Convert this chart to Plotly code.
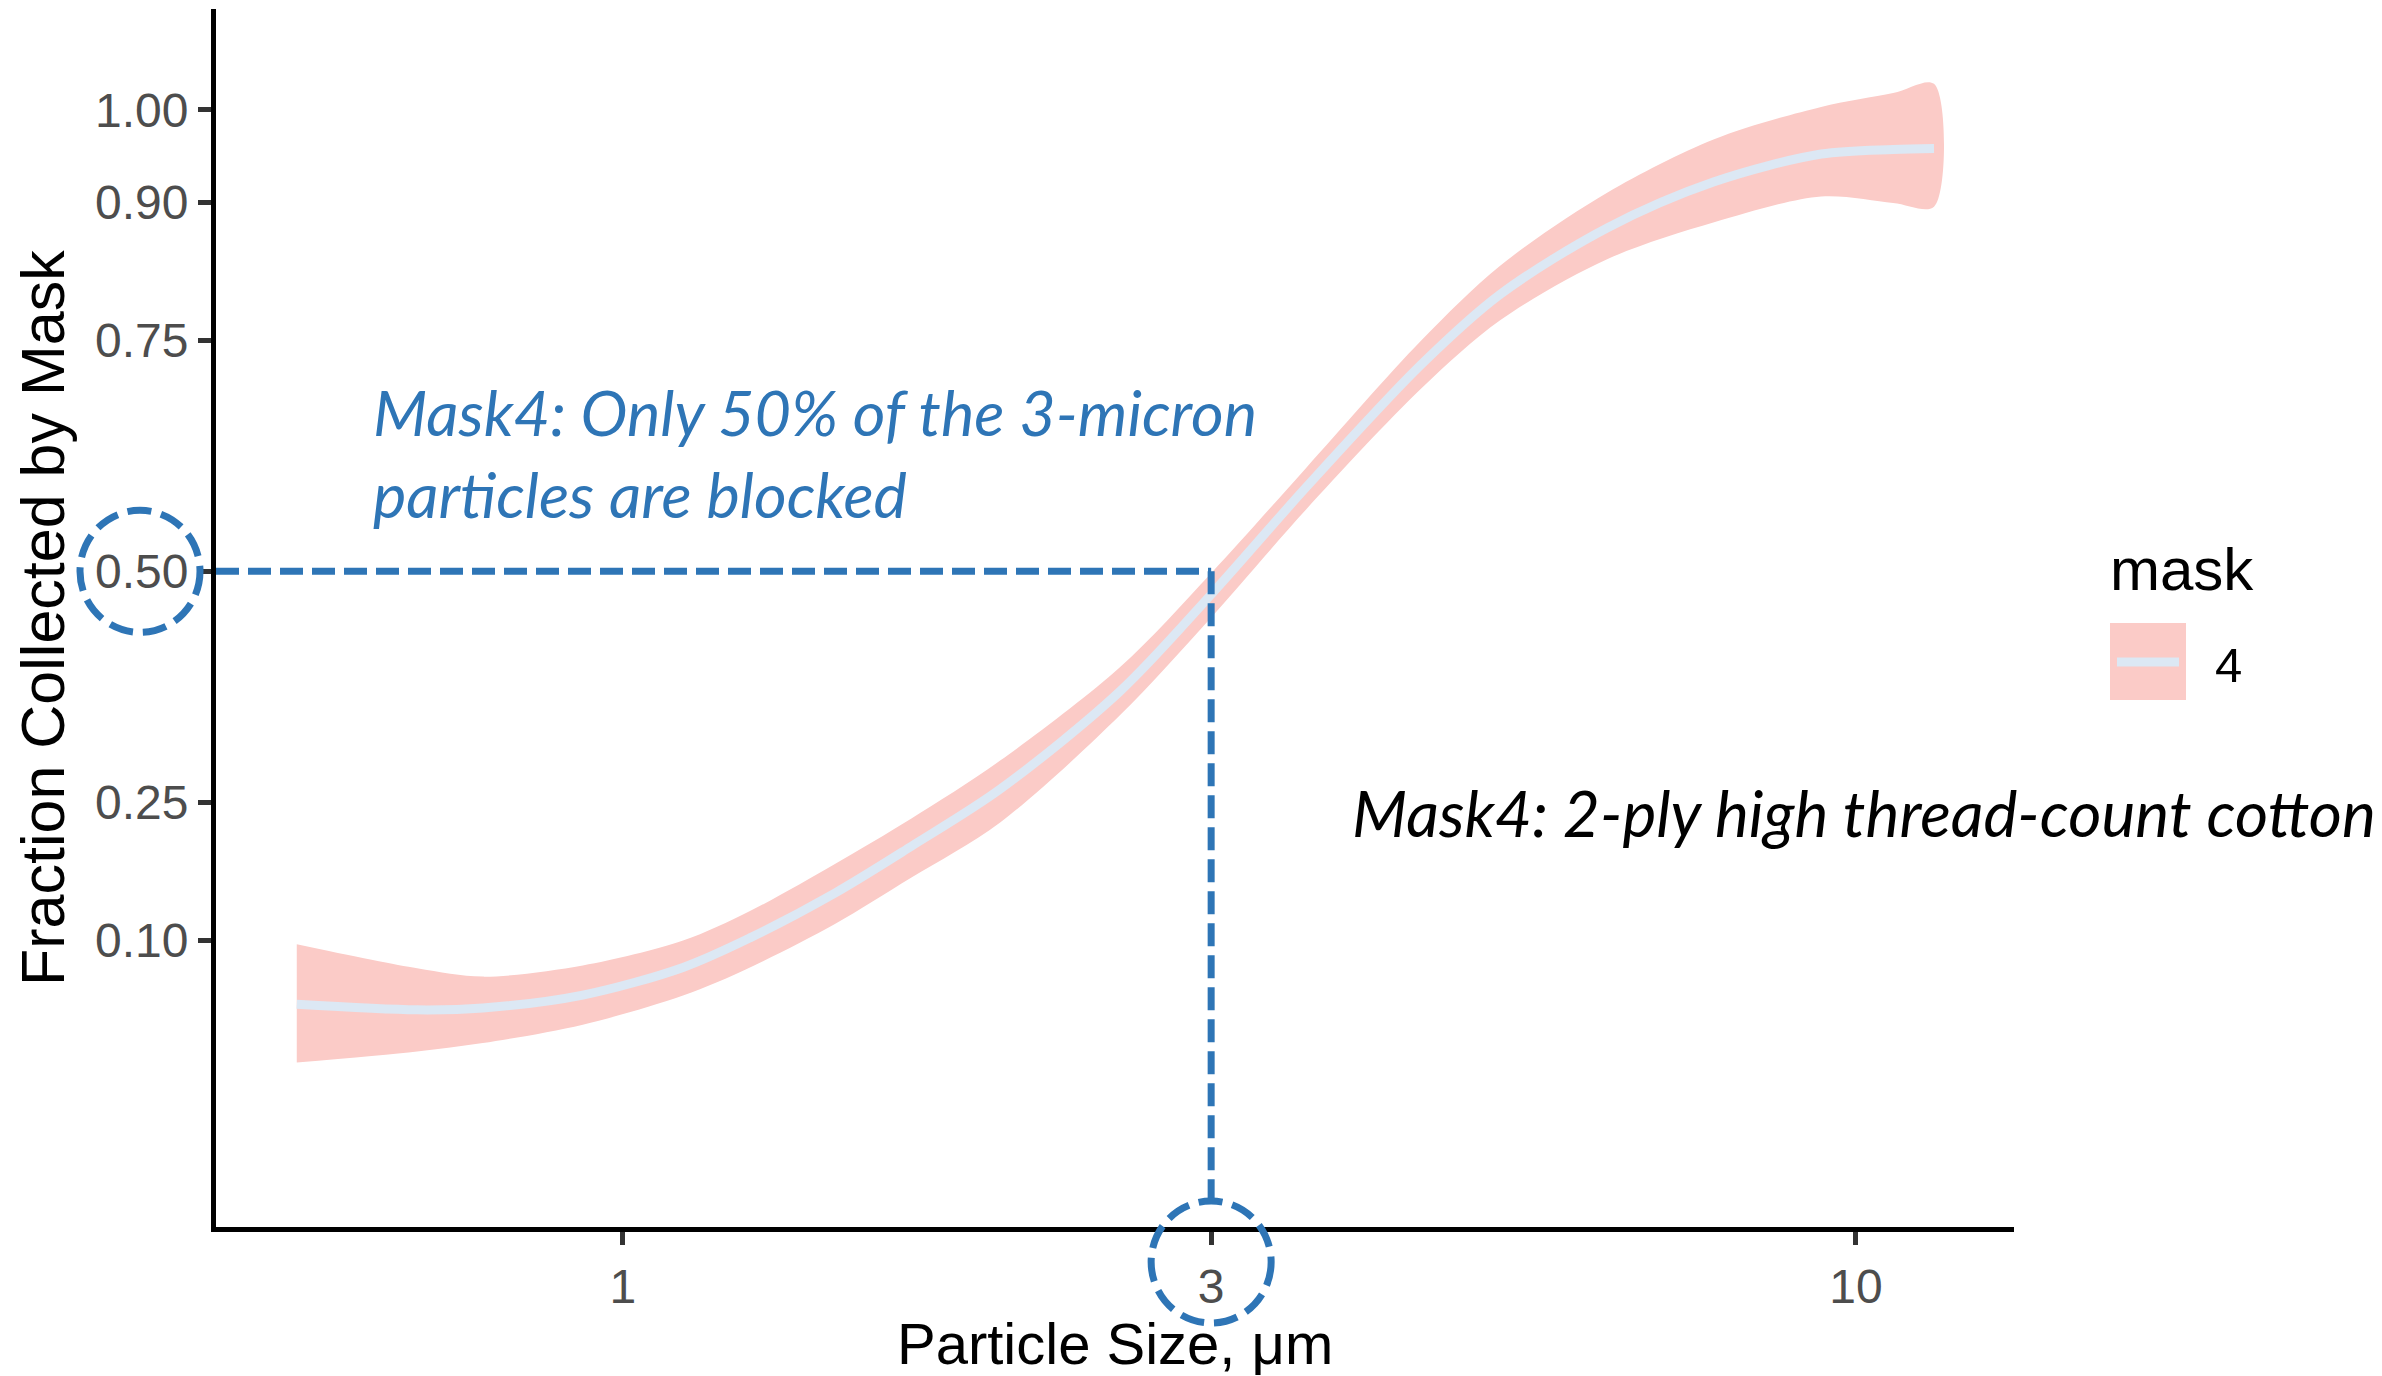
import math
import plotly.graph_objects as go

# ---------------- data ----------------
particle_size = [0.544, 0.681, 0.770, 0.928, 1.119, 1.268, 1.486, 1.713, 2.023, 2.53,
                 3.0, 3.582, 4.441, 5.146, 6.284, 7.674, 9.371, 10.72, 11.57]
fit_mask4 = [0.031, 0.025, 0.027, 0.041, 0.071, 0.103, 0.1515, 0.202, 0.264, 0.37,
             0.475, 0.591, 0.724, 0.800, 0.872, 0.922, 0.952, 0.957, 0.958]
upper_mask4 = [0.096, 0.070, 0.061, 0.073, 0.100, 0.132, 0.183, 0.232, 0.295, 0.396,
               0.498, 0.612, 0.750, 0.831, 0.910, 0.968, 1.003, 1.018, 1.028]
lower_mask4 = [-0.032, -0.020, -0.011, 0.009, 0.0405, 0.071, 0.118, 0.168, 0.228, 0.344,
               0.450, 0.567, 0.698, 0.772, 0.838, 0.878, 0.906, 0.899, 0.895]

y_tickvals = [0.10, 0.25, 0.50, 0.75, 0.90, 1.00]
y_ticktext = ["0.10", "0.25", "0.50", "0.75", "0.90", "1.00"]
x_tickvals = [1, 3, 10]
x_ticktext = ["1", "3", "10"]

ref_size = 3
ref_fraction = 0.5
vline_bottom = -0.183

x_range_log = [-0.3299, 1.1282]
y_range = [-0.2102, 1.1091]

# ---------------- styles ----------------
W, H = 2382, 1376
ML, MR, MT, MB = 216, 368, 9, 149
band_color = "#FBCBC7"
line_color = "#DCE8F4"
blue = "#2E75B6"
gg_font = "Liberation Sans, Arial, sans-serif"
note_font = "Lato, Open Sans, sans-serif"

plot_w = W - ML - MR
plot_h = H - MT - MB


def px_to_paper_x(px):
    return (px - ML) / plot_w


def px_to_paper_y(py):
    return (H - MB - py) / plot_h


fig = go.Figure()

# confidence band
fig.add_trace(go.Scatter(
    x=particle_size + particle_size[::-1],
    y=upper_mask4 + lower_mask4[::-1],
    fill="toself", fillcolor=band_color, mode="none",
    line=dict(shape="spline", smoothing=0.9),
    hoverinfo="skip", showlegend=False))

# fitted line
fig.add_trace(go.Scatter(
    x=particle_size, y=fit_mask4, mode="lines",
    line=dict(color=line_color, width=9, shape="spline", smoothing=0.9),
    showlegend=False))

# dashed reference lines
x_min_val = 10 ** x_range_log[0]
fig.add_trace(go.Scatter(
    x=[x_min_val, ref_size], y=[ref_fraction, ref_fraction], mode="lines",
    line=dict(color=blue, width=7, dash="23px,9px"), showlegend=False))
fig.add_trace(go.Scatter(
    x=[ref_size, ref_size], y=[ref_fraction, vline_bottom], mode="lines",
    line=dict(color=blue, width=7, dash="23px,9px"), showlegend=False))

# dashed circles around tick labels
y_paper_half = (ref_fraction - y_range[0]) / (y_range[1] - y_range[0])
x_paper_three = (math.log10(ref_size) - x_range_log[0]) / (x_range_log[1] - x_range_log[0])
circle_style = dict(type="circle", xref="paper", yref="paper",
                    xsizemode="pixel", ysizemode="pixel",
                    x0=-60, x1=60, y0=-61, y1=61,
                    line=dict(color=blue, width=7, dash="24px,10px"),
                    fillcolor="rgba(0,0,0,0)", layer="above")
shapes = [
    dict(circle_style, xanchor=px_to_paper_x(140), yanchor=y_paper_half),
    dict(circle_style, xanchor=x_paper_three, yanchor=px_to_paper_y(1262)),
    # legend key
    dict(type="rect", xref="paper", yref="paper",
         x0=px_to_paper_x(2110), x1=px_to_paper_x(2186),
         y0=px_to_paper_y(700), y1=px_to_paper_y(623),
         fillcolor=band_color, line=dict(width=0), layer="above"),
    dict(type="line", xref="paper", yref="paper",
         x0=px_to_paper_x(2117), x1=px_to_paper_x(2179),
         y0=px_to_paper_y(662), y1=px_to_paper_y(662),
         line=dict(color=line_color, width=9), layer="above"),
]

annotations = [
    dict(text="Mask4: Only 50% of the 3-micron<br>particles are blocked",
         xref="paper", yref="paper", x=px_to_paper_x(371), y=px_to_paper_y(372),
         xanchor="left", yanchor="top", align="left", showarrow=False,
         font=dict(family=note_font, size=63, color=blue, style="italic")),
    dict(text="Mask4: 2-ply high thread-count cotton",
         xref="paper", yref="paper", x=px_to_paper_x(1350), y=px_to_paper_y(812),
         xanchor="left", yanchor="middle", showarrow=False,
         font=dict(family=note_font, size=64, color="black", style="italic")),
    dict(text="mask", xref="paper", yref="paper",
         x=px_to_paper_x(2108), y=px_to_paper_y(569), xanchor="left", yanchor="middle",
         showarrow=False, font=dict(family=gg_font, size=60, color="black")),
    dict(text="4", xref="paper", yref="paper",
         x=px_to_paper_x(2213), y=px_to_paper_y(665), xanchor="left", yanchor="middle",
         showarrow=False, font=dict(family=gg_font, size=49, color="black")),
    dict(text="Particle Size, μm", xref="paper", yref="paper",
         x=0.5, y=px_to_paper_y(1343), xanchor="center", yanchor="middle",
         borderpad=0, showarrow=False,
         font=dict(family=gg_font, size=58, color="black")),
    dict(text="Fraction Collected by Mask", xref="paper", yref="paper",
         x=px_to_paper_x(43), y=0.5, xanchor="center", yanchor="middle", textangle=-90,
         showarrow=False, font=dict(family=gg_font, size=61, color="black")),
]

axis_common = dict(showline=True, linecolor="black", linewidth=5, ticks="outside",
                   ticklen=13, tickwidth=5, tickcolor="#333333", showgrid=False,
                   zeroline=False,
                   tickfont=dict(family=gg_font, size=48, color="#4D4D4D"))

fig.update_layout(
    width=W, height=H,
    margin=dict(l=ML, r=MR, t=MT, b=MB, pad=0),
    paper_bgcolor="white", plot_bgcolor="white",
    showlegend=False,
    xaxis=dict(axis_common, type="log", range=x_range_log,
               tickvals=x_tickvals, ticktext=x_ticktext),
    yaxis=dict(axis_common, range=y_range, tickvals=y_tickvals, ticktext=y_ticktext),
    shapes=shapes,
    annotations=annotations,
)

fig.write_html("out.html")
